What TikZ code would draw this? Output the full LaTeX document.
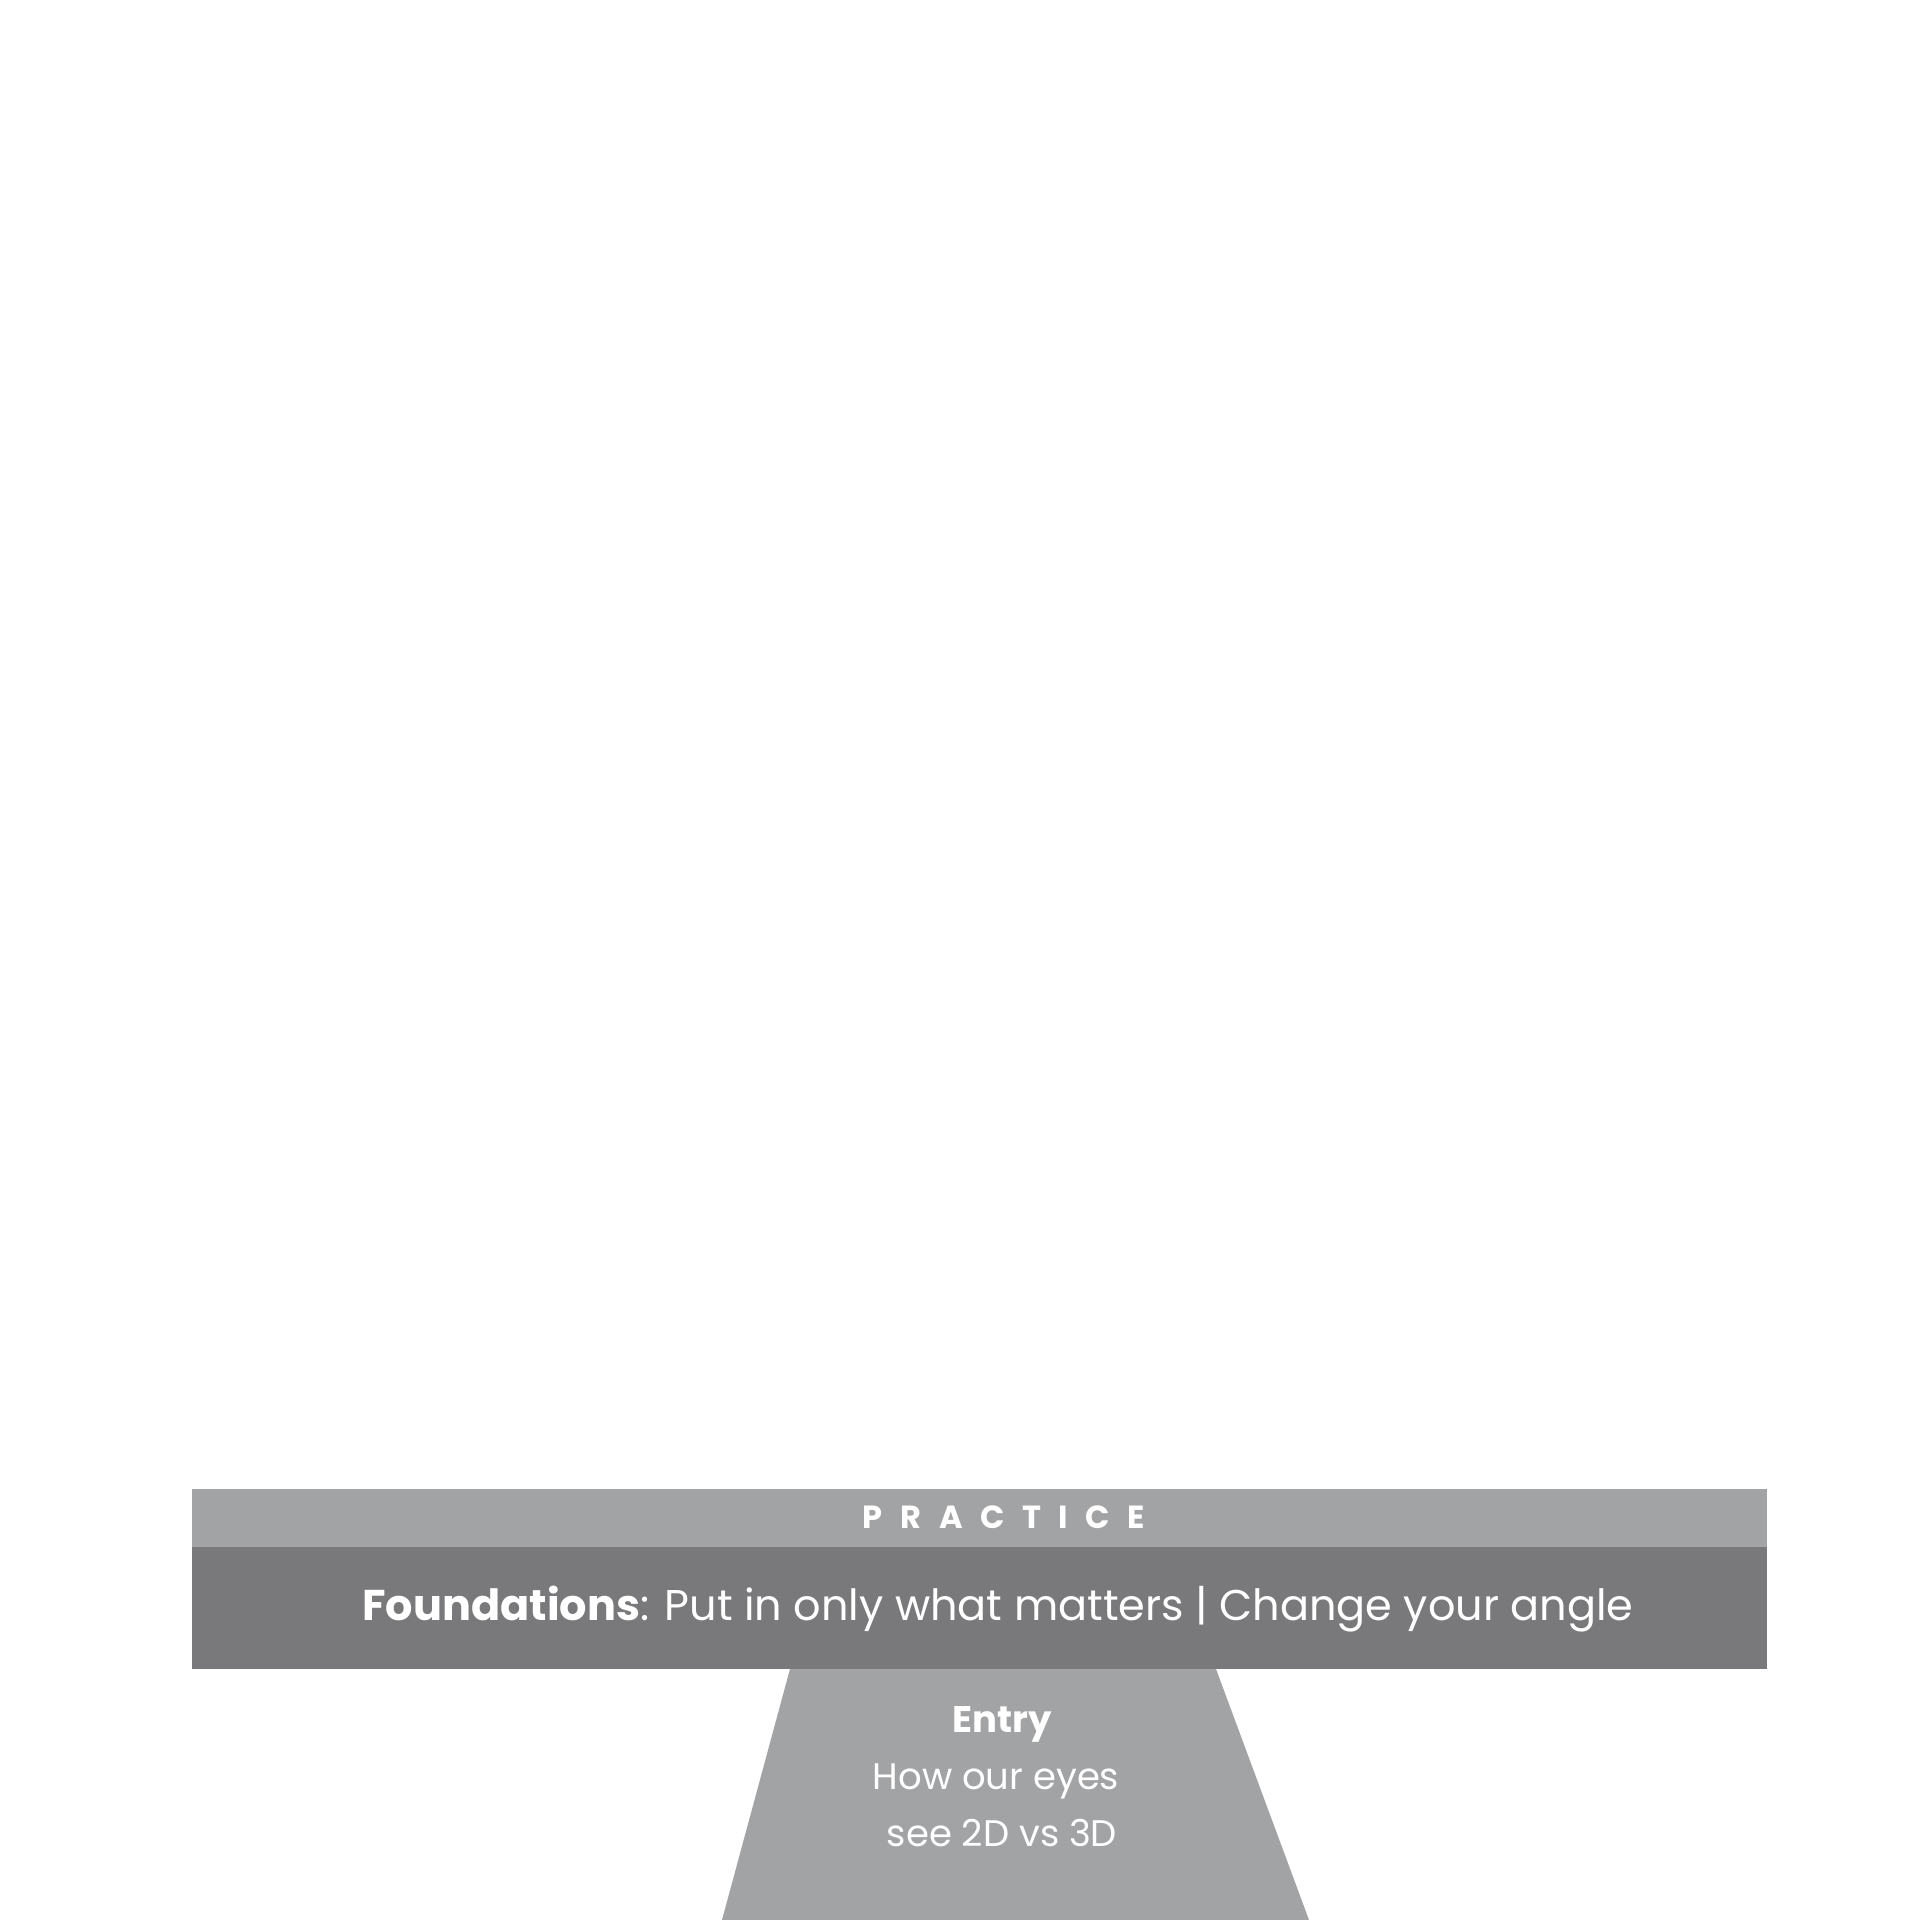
\documentclass[tikz,border=0pt]{standalone}
\usepackage{fontspec}
\setmainfont{Poppins}
\definecolor{lightbar}{RGB}{162,163,165}
\definecolor{darkbar}{RGB}{121,121,123}
\begin{document}
\begin{tikzpicture}[x=1pt,y=1pt,
  lbl/.style={text=white,inner sep=0pt,anchor=base},
  bigtxt/.style={lbl,font=\fontsize{43}{52}\selectfont},
  midtxt/.style={lbl,font=\fontsize{37}{46}\selectfont},
  captxt/.style={lbl,font=\fontsize{32}{38}\bfseries\selectfont}]
\useasboundingbox (0,0) rectangle (1920,1920);
\fill[white] (0,0) rectangle (1920,1920);
% trapezoid stem
\fill[lightbar] (790,251) -- (1216,251) -- (1309,0) -- (722,0) -- cycle;
% bars
\fill[lightbar] (192,373) rectangle (1767,431);
\fill[darkbar] (192,251) rectangle (1767,373);
\node[captxt] (practice) at (1004,391) {P\hspace{0.55em}R\hspace{0.55em}A\hspace{0.55em}C\hspace{0.55em}T\hspace{0.55em}I\hspace{0.55em}C\hspace{0.55em}E};
\node[bigtxt] (found) at (998,299) {\textbf{Foundations}: Put in only what matters | Change your angle};
\node[midtxt] (entry) at (1002,187) {\textbf{Entry}};
\node[midtxt] (how) at (996,130) {How our eyes};
\node[midtxt] (see) at (1002,73) {see 2D vs 3D};
\end{tikzpicture}
\end{document}
